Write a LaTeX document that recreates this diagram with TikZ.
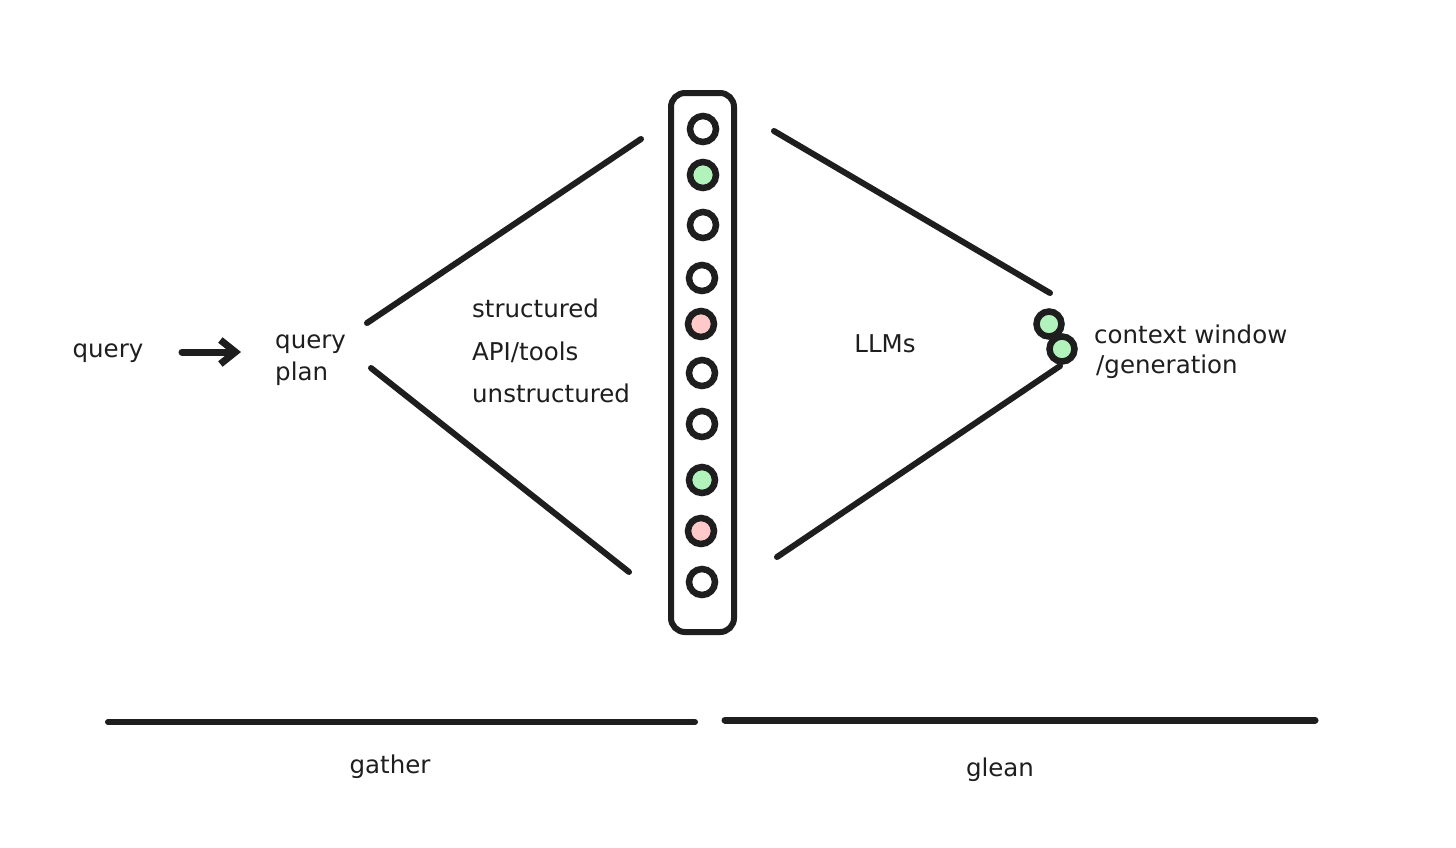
\documentclass[tikz,border=0pt]{standalone}
\usepackage{fontspec}
\setmainfont{DejaVu Sans}
\usetikzlibrary{arrows.meta}
\definecolor{inkc}{HTML}{1E1E1E}
\definecolor{greenf}{HTML}{B2F2BB}
\definecolor{pinkf}{HTML}{FFC9C9}
\begin{document}
\begin{tikzpicture}[x=1pt,y=-1pt,
  ink/.style={draw=inkc, line width=6pt, line cap=round},
  dot/.style={circle, draw=inkc, line width=6.5pt, minimum size=26pt, inner sep=0pt, fill=white},
  gdot/.style={dot, fill=greenf},
  pdot/.style={dot, fill=pinkf},
  lbl/.style={font=\fontsize{24.5}{30}\selectfont, text=inkc, inner sep=0pt}]
\useasboundingbox[fill=white] (0,0) rectangle (1456,847);

% column
\node[draw=inkc, line width=6pt, rounded corners=14pt, minimum width=63pt, minimum height=539pt, inner sep=0pt] (col) at (702.5,362.5) {};
\node[dot]  (d1)  at (703,129) {};
\node[gdot] (d2)  at (703,175) {};
\node[dot]  (d3)  at (703,225) {};
\node[dot]  (d4)  at (702,278) {};
\node[pdot] (d5)  at (701,324) {};
\node[dot]  (d6)  at (702,373) {};
\node[dot]  (d7)  at (702,424) {};
\node[gdot] (d8)  at (702,480) {};
\node[pdot] (d9)  at (701,531) {};
\node[dot]  (d10) at (702,582) {};

% right dots
\node[gdot, minimum size=25pt] (r1) at (1049,324) {};
\node[gdot, minimum size=25pt] (r2) at (1062,349) {};

% fan lines
\coordinate (a1) at (367,323); \coordinate (a2) at (641,139);
\coordinate (b1) at (371,368); \coordinate (b2) at (629,572);
\coordinate (c1) at (774,131); \coordinate (c2) at (1050,293);
\coordinate (e1) at (777,557); \coordinate (e2) at (1060,366);
\draw[ink] (a1) -- (a2);
\draw[ink] (b1) -- (b2);
\draw[ink] (c1) -- (c2);
\draw[ink] (e1) -- (e2);

% texts
\node[lbl] (q) at (108,353) {query};
\node[lbl, anchor=west, align=left, font=\fontsize{24.5}{32}\selectfont] (qp) at (275,360) {query\\plan};
\node[lbl, anchor=west] (s1) at (472,308) {structured};
\node[lbl, anchor=west] (s2) at (472,352) {API/tools};
\node[lbl, anchor=west] (s3) at (472,393) {unstructured};
\node[lbl] (llm) at (885,344) {LLMs};
\node[lbl, anchor=west] (cw) at (1094,334) {context window};
\node[lbl, anchor=west] (gen) at (1096,367) {/generation};

% arrow
\coordinate (ar1) at (182,352); \coordinate (ar2) at (241,352);
\draw[ink, line width=7pt, -{Straight Barb[length=15pt, width=24pt, line width=7pt]}] (ar1) -- (ar2);

% bottom lines
\coordinate (g1) at (108,722); \coordinate (g2) at (695,722);
\coordinate (h1) at (725,720); \coordinate (h2) at (1315,720);
\draw[ink] (g1) -- (g2);
\draw[ink, line width=7pt] (h1) -- (h2);
\node[lbl] (gat) at (390,767) {gather};
\node[lbl] (gle) at (1000,770) {glean};
\end{tikzpicture}
\end{document}
